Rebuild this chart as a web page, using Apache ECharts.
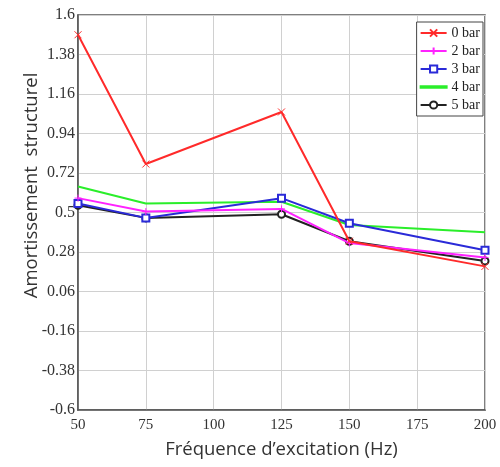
<!DOCTYPE html>
<html><head><meta charset="utf-8">
<script src="https://cdn.jsdelivr.net/npm/echarts@6/dist/echarts.min.js"></script>
<style>html,body{margin:0;padding:0;background:#fff}#c{width:500px;height:467px}</style>
</head><body><div id="c"></div>
<script>
const freqs = [50, 75, 125, 150, 200];
const bar0 = [1.49, 0.77, 1.06, 0.34, 0.20];
const bar2 = [0.58, 0.505, 0.52, 0.33, 0.25];
const bar3 = [0.55, 0.47, 0.58, 0.44, 0.29];
const bar4 = [0.645, 0.55, 0.56, 0.43, 0.39];
const bar5 = [0.54, 0.47, 0.49, 0.34, 0.23];
const names = ['0 bar', '2 bar', '3 bar', '4 bar', '5 bar'];
const colors = ['#ff2a2a', '#ff22ff', '#2a2ad8', '#2aee2a', '#222222'];
const symbols = [
  'path://M0,0L10,10M10,0L0,10',
  'path://M5,0L5,10M0,5L10,5',
  'emptyRect',
  'none',
  'emptyCircle'
];
const allData = [bar0, bar2, bar3, bar4, bar5];

const chart = echarts.init(document.getElementById('c'));
chart.setOption({
  animation: false,
  grid: {left: 78, right: 15, top: 15, bottom: 57, show: true, borderColor: '#555', borderWidth: 1.5},
  legend: {
    orient: 'vertical', right: 17, top: 22,
    backgroundColor: '#fff', borderColor: '#444', borderWidth: 1,
    padding: [4, 3, 4, 3], itemGap: 4, itemWidth: 26, itemHeight: 9,
    textStyle: {fontFamily: 'Liberation Serif', fontSize: 14, color: '#222'},
    data: names.map((n, i) => i === 3 ? {name: n, icon: 'path://M0,5L26,5L26,6.5L0,6.5Z'} : {name: n})
  },
  xAxis: {
    type: 'value', min: 50, max: 200, interval: 25,
    name: 'Fréquence d’excitation (Hz)', nameLocation: 'middle', nameGap: 30,
    nameTextStyle: {fontFamily: 'Open Sans', fontSize: 18.5, color: '#333'},
    axisLine: {show: true, onZero: false, lineStyle: {color: '#555', width: 1.5}},
    axisTick: {show: false},
    axisLabel: {fontFamily: 'Liberation Serif', fontSize: 15, color: '#333', margin: 8},
    splitLine: {show: true, lineStyle: {color: '#d0d0d0'}}
  },
  yAxis: {
    type: 'value', min: -0.6, max: 1.6, interval: 0.22,
    name: 'Amortissement  structurel', nameLocation: 'middle', nameGap: 37,
    nameMoveOverlap: false,
    nameTextStyle: {fontFamily: 'Open Sans', fontSize: 18.5, color: '#333', padding: [0, 0, 0, 54]},
    axisLine: {show: true, onZero: false, lineStyle: {color: '#555', width: 1.5}},
    axisTick: {show: false},
    axisLabel: {fontFamily: 'Liberation Serif', fontSize: 16, color: '#333', margin: 3,
      formatter: v => String(parseFloat(v.toFixed(2)))},
    splitLine: {show: true, lineStyle: {color: '#d0d0d0'}}
  },
  series: allData.map((d, i) => ({
    name: names[i], type: 'line',
    data: freqs.map((f, j) => [f, d[j]]),
    symbol: symbols[i], symbolSize: 7, showSymbol: true,
    lineStyle: {color: colors[i], width: 2},
    itemStyle: {color: colors[i], borderColor: colors[i], borderWidth: 1},
    z: 10 - i
  }))
});
</script></body></html>
